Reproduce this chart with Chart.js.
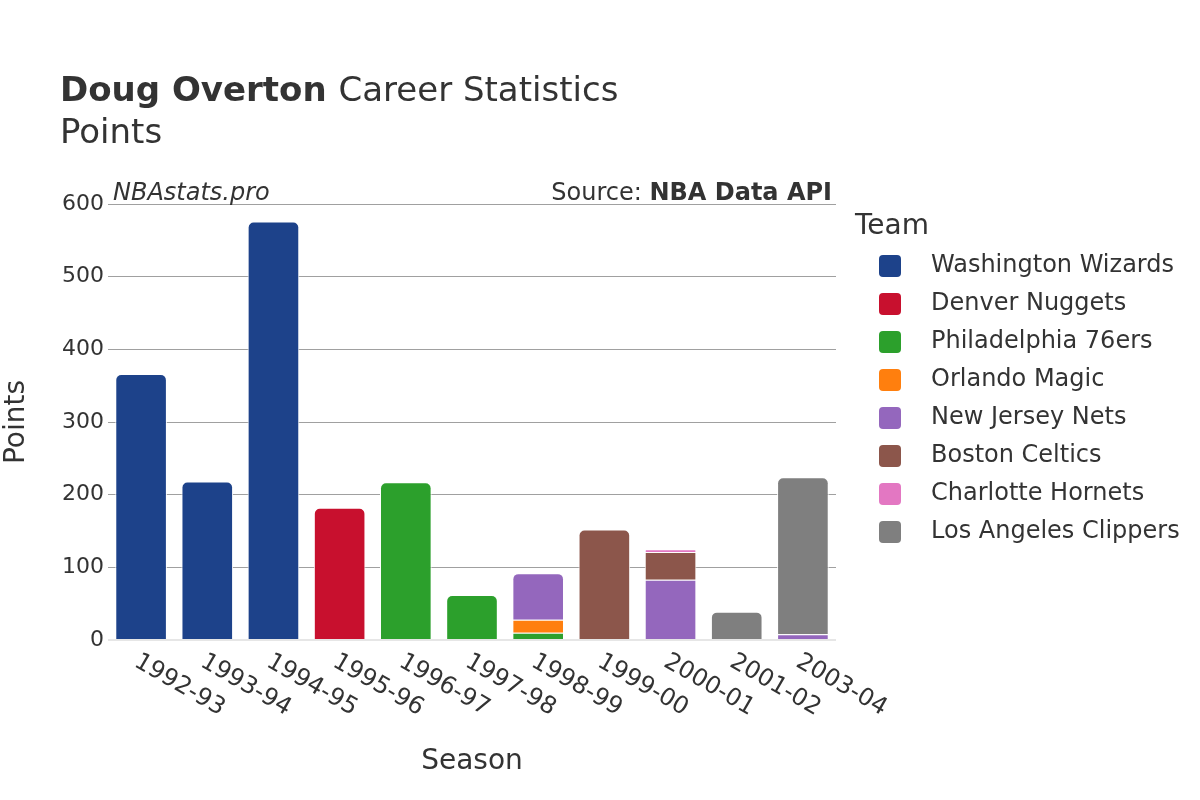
<!DOCTYPE html>
<html>
<head>
<meta charset="utf-8">
<script src="https://cdn.jsdelivr.net/npm/chart.js@4/dist/chart.umd.min.js"></script>
<style>
    html, body { margin: 0; padding: 0; background: #fff; }
    #wrap { width: 1200px; height: 800px; position: relative; }
</style>
</head>
<body>
<div id="wrap"><canvas id="chart" width="1200" height="800"></canvas></div>
<script>
const seasons = ['1992-93', '1993-94', '1994-95', '1995-96', '1996-97', '1997-98', '1998-99', '1999-00', '2000-01', '2001-02', '2003-04'];

const wizards  = [366, 218, 576, null, null, null, null, null, null, null, null];
const nuggets  = [null, null, null, 182, null, null, null, null, null, null, null];
const sixers   = [null, null, null, null, 217, 62, 10, null, null, null, null];
const magic    = [null, null, null, null, null, null, 18, null, null, null, null];
const nets     = [null, null, null, null, null, null, 64, null, 83, null, 8];
const celtics  = [null, null, null, null, null, null, null, 152, 38, null, null];
const hornets  = [null, null, null, null, null, null, null, null, 4, null, null];
const clippers = [null, null, null, null, null, null, null, null, null, 39, 216];

const yTicks = [0, 100, 200, 300, 400, 500, 600];

const FONT = '"DejaVu Sans", sans-serif';
const TEXT = '#333333';

const teams = [
    { label: 'Washington Wizards', data: wizards, color: '#1d428a' },
    { label: 'Denver Nuggets', data: nuggets, color: '#c8102e' },
    { label: 'Philadelphia 76ers', data: sixers, color: '#2ca02c' },
    { label: 'Orlando Magic', data: magic, color: '#ff7f0e' },
    { label: 'New Jersey Nets', data: nets, color: '#9467bd' },
    { label: 'Boston Celtics', data: celtics, color: '#8c564b' },
    { label: 'Charlotte Hornets', data: hornets, color: '#e377c2' },
    { label: 'Los Angeles Clippers', data: clippers, color: '#7f7f7f' }
];

// titles, watermark, rotated season labels and the legend
const decorPlugin = {
    id: 'decor',
    afterDraw(chart) {
        const { ctx, chartArea } = chart;
        const xScale = chart.scales.x;
        ctx.save();

        ctx.fillStyle = TEXT;
        ctx.textBaseline = 'alphabetic';
        ctx.textAlign = 'left';
        ctx.font = 'bold 34px ' + FONT;
        ctx.fillText('Doug Overton', 60, 101);
        const w = ctx.measureText('Doug Overton ').width;
        ctx.font = '34px ' + FONT;
        ctx.fillText('Career Statistics', 60 + w, 101);
        ctx.fillText('Points', 60, 143);

        ctx.font = 'italic 24px ' + FONT;
        ctx.fillText('NBAstats.pro', 113, 200);
        ctx.textAlign = 'right';
        ctx.font = 'bold 24px ' + FONT;
        const api = 'NBA Data API';
        ctx.fillText(api, chartArea.right - 4, 200);
        const aw = ctx.measureText(api).width;
        ctx.font = '24px ' + FONT;
        ctx.fillText('Source: ', chartArea.right - 4 - aw, 200);

        // season labels, rotated clockwise
        ctx.font = '24px ' + FONT;
        ctx.textAlign = 'left';
        ctx.textBaseline = 'middle';
        seasons.forEach((s, i) => {
            const x = xScale.getPixelForValue(i);
            ctx.save();
            ctx.translate(x - 5, chartArea.bottom + 20);
            ctx.rotate(Math.PI / 6);
            ctx.fillText(s, 0, 0);
            ctx.restore();
        });

        // legend
        ctx.textAlign = 'left';
        ctx.textBaseline = 'middle';
        ctx.font = '28px ' + FONT;
        ctx.fillText('Team', 855, 227);
        ctx.font = '24px ' + FONT;
        teams.forEach((t, i) => {
            const cy = 266 + i * 38;
            ctx.fillStyle = t.color;
            ctx.beginPath();
            ctx.roundRect(879, cy - 11, 22, 22, 4);
            ctx.fill();
            ctx.fillStyle = TEXT;
            ctx.fillText(t.label, 931, cy);
        });

        ctx.restore();
    }
};

new Chart(document.getElementById('chart').getContext('2d'), {
    type: 'bar',
    data: {
        labels: seasons,
        datasets: teams.map(t => ({
            label: t.label,
            data: t.data,
            backgroundColor: t.color,
            borderColor: '#ffffff',
            borderWidth: 1,
            borderSkipped: 'start',
            borderRadius: 6,
            barPercentage: 0.78,
            categoryPercentage: 1
        }))
    },
    plugins: [decorPlugin],
    options: {
        responsive: false,
        animation: false,
        layout: {
            padding: { top: 204, right: 364, left: 0, bottom: 0 }
        },
        plugins: {
            legend: { display: false },
            tooltip: { enabled: false }
        },
        scales: {
            x: {
                stacked: true,
                grid: { display: false },
                border: { display: false },
                ticks: { display: false },
                title: {
                    display: true,
                    text: 'Season',
                    color: TEXT,
                    font: { family: FONT, size: 28 },
                    padding: { top: 0, bottom: 21 }
                },
                afterFit: scale => { scale.height = 160; }
            },
            y: {
                stacked: true,
                min: 0,
                max: 600,
                afterBuildTicks: scale => { scale.ticks = yTicks.map(v => ({ value: v })); },
                grid: {
                    drawTicks: false,
                    color: c => c.tick.value === 0 ? '#e6e6e6' : '#a0a0a0',
                    lineWidth: c => c.tick.value === 0 ? 2 : 1
                },
                border: { display: false },
                ticks: {
                    color: TEXT,
                    padding: 4,
                    font: { family: FONT, size: 22 }
                },
                title: {
                    display: true,
                    text: 'Points',
                    color: TEXT,
                    font: { family: FONT, size: 28 },
                    padding: { top: 0, bottom: 10 }
                },
                afterFit: scale => { scale.width = 108; }
            }
        }
    }
});
</script>
</body>
</html>
